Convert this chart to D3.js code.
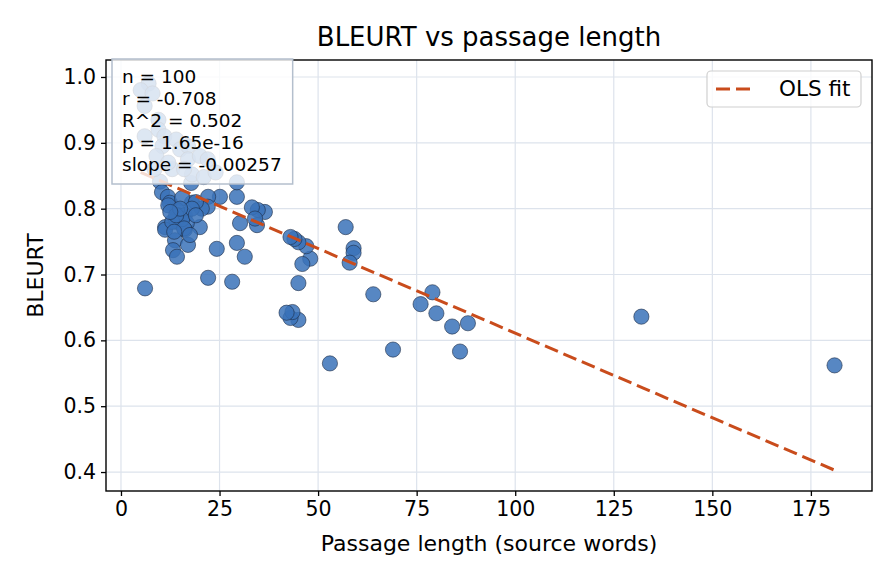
<!DOCTYPE html>
<html lang="en">
<head>
<meta charset="UTF-8">
<title>BLEURT vs passage length</title>
<script src="https://d3js.org/d3.v7.min.js"></script>
<style>
  body { margin: 0; background: #fff; }
  svg { display: block; font-family: "DejaVu Sans", sans-serif; }
</style>
</head>
<body>
<svg id="chart" width="896" height="584"></svg>
<script>
// passage length (source words) per item
const words = [
  181, 132, 88, 86, 84, 80, 79, 76, 69, 64,
  59, 59, 58, 57, 53, 48, 47, 46, 45, 44,
  43, 45, 45, 43, 43.5, 42, 36.5, 34.7, 33.2, 34.5,
  34, 30.2, 31.4, 29.4, 28.2, 24.3, 22.1, 6.1, 29.4, 29.4,
  25.1, 22.1, 22, 20, 17.8, 18, 9.9, 10.4, 11.9, 12.4,
  15.5, 14.2, 14.5, 16.2, 14.2, 16.7, 11.2, 11.2, 16.2, 13.7,
  17, 13.2, 14.2, 12, 14, 15.5, 13, 16, 14, 20.5,
  19, 18, 13, 18, 21, 24, 7, 5, 8, 6,
  9.5, 9.5, 11, 6, 10.5, 14, 15, 17, 9, 12,
  17, 20, 22, 8.5, 16, 15, 12.5, 17.5, 19, 13.5
];
// BLEURT score per item
const bleurt = [
  0.562, 0.636, 0.626, 0.583, 0.621, 0.641, 0.673, 0.655, 0.586, 0.670,
  0.740, 0.733, 0.718, 0.772, 0.565, 0.724, 0.743, 0.716, 0.749, 0.754,
  0.757, 0.687, 0.631, 0.634, 0.643, 0.642, 0.795, 0.798, 0.802, 0.775,
  0.785, 0.778, 0.727, 0.748, 0.689, 0.739, 0.695, 0.679, 0.818, 0.840,
  0.818, 0.818, 0.803, 0.772, 0.839, 0.809, 0.841, 0.825, 0.818, 0.809,
  0.816, 0.798, 0.790, 0.790, 0.780, 0.778, 0.772, 0.768, 0.768, 0.752,
  0.745, 0.737, 0.727, 0.805, 0.783, 0.784, 0.780, 0.770, 0.790, 0.800,
  0.810, 0.800, 0.860, 0.852, 0.848, 0.855, 0.990, 0.980, 0.975, 0.956,
  0.935, 0.920, 0.910, 0.910, 0.895, 0.905, 0.890, 0.895, 0.880, 0.870,
  0.875, 0.880, 0.875, 0.860, 0.860, 0.800, 0.795, 0.760, 0.790, 0.765
];
// fitted OLS line
const fitSlope = -0.00257;
const fitIntercept = 0.868;
// stats box lines
const statsLines = ["n = 100", "r = -0.708", "R^2 = 0.502", "p = 1.65e-16", "slope = -0.00257"];
const xTicks = [0, 25, 50, 75, 100, 125, 150, 175];
const yTicks = [0.4, 0.5, 0.6, 0.7, 0.8, 0.9, 1.0];

const svg = d3.select("#chart");
const m = { left: 106, right: 872, top: 60, bottom: 491 };

const x = d3.scaleLinear().domain([-3.8, 190.5]).range([m.left, m.right]);
const y = d3.scaleLinear().domain([0.3712, 1.0258]).range([m.bottom, m.top]);

// grid
const grid = svg.append("g");
grid.selectAll(".gx").data(xTicks).join("line")
  .attr("x1", d => x(d)).attr("x2", d => x(d))
  .attr("y1", m.top).attr("y2", m.bottom)
  .attr("stroke", "#dde3ec").attr("stroke-width", 1.2);
grid.selectAll(".gy").data(yTicks).join("line")
  .attr("y1", d => y(d)).attr("y2", d => y(d))
  .attr("x1", m.left).attr("x2", m.right)
  .attr("stroke", "#dde3ec").attr("stroke-width", 1.2);

// points
const pts = words.map((w, i) => ({ w: w, b: bleurt[i] }));
svg.append("g").selectAll("circle").data(pts).join("circle")
  .attr("cx", d => x(d.w)).attr("cy", d => y(d.b)).attr("r", 7.6)
  .attr("fill", "#3a72b8").attr("fill-opacity", 0.85)
  .attr("stroke", "#1c2c44").attr("stroke-width", 0.6);

// fit line
const ext = d3.extent(words);
svg.append("line")
  .attr("x1", x(ext[0])).attr("y1", y(fitIntercept + fitSlope * ext[0]))
  .attr("x2", x(ext[1])).attr("y2", y(fitIntercept + fitSlope * ext[1]))
  .attr("stroke", "#c94c1c").attr("stroke-width", 3)
  .attr("stroke-dasharray", "14,6");

// axes
const xAxis = svg.append("g").attr("transform", `translate(0,${m.bottom})`)
  .call(d3.axisBottom(x).tickValues(xTicks).tickSize(5).tickPadding(5).tickFormat(d3.format("d")));
const yAxis = svg.append("g").attr("transform", `translate(${m.left},0)`)
  .call(d3.axisLeft(y).tickValues(yTicks).tickSize(5).tickPadding(5).tickFormat(d3.format(".1f")));
[xAxis, yAxis].forEach(a => {
  a.select(".domain").remove();
  a.selectAll("line").attr("stroke", "#000").attr("stroke-width", 1.3);
  a.selectAll("text").attr("font-size", 20.5).attr("fill", "#000").attr("font-family", "DejaVu Sans");
});
svg.append("rect")
  .attr("x", m.left).attr("y", m.top)
  .attr("width", m.right - m.left).attr("height", m.bottom - m.top)
  .attr("fill", "none").attr("stroke", "#000").attr("stroke-width", 1.4);

// stats box
const sb = svg.append("g");
const sbRect = sb.append("rect").attr("x", 112).attr("y", 59)
  .attr("fill", "#fff").attr("fill-opacity", 0.8)
  .attr("stroke", "#b4bfcd").attr("stroke-width", 1.5);
sb.selectAll("text").data(statsLines).join("text")
  .attr("x", 122).attr("y", (d, i) => 83 + i * 22)
  .attr("font-size", 18.5).text(d => d);
const bb = sb.node().getBBox();
sbRect.attr("width", bb.x + bb.width - 112 + 11).attr("height", 184 - 59);

// legend
const lg = svg.append("g");
lg.append("rect").attr("x", 707).attr("y", 71).attr("width", 154).attr("height", 36)
  .attr("rx", 4).attr("fill", "#fff").attr("fill-opacity", 0.8)
  .attr("stroke", "#d0d0d0").attr("stroke-width", 1.2);
lg.append("line").attr("x1", 716).attr("x2", 754).attr("y1", 89).attr("y2", 89)
  .attr("stroke", "#c94c1c").attr("stroke-width", 3).attr("stroke-dasharray", "14,6");
lg.append("text").attr("x", 779).attr("y", 96).attr("font-size", 21.5).text("OLS fit");

// titles
svg.append("text").attr("x", (m.left + m.right) / 2).attr("y", 46)
  .attr("text-anchor", "middle").attr("font-size", 26).text("BLEURT vs passage length");
svg.append("text").attr("x", (m.left + m.right) / 2).attr("y", 551)
  .attr("text-anchor", "middle").attr("font-size", 22).text("Passage length (source words)");
svg.append("text").attr("transform", `translate(43,${(m.top + m.bottom) / 2}) rotate(-90)`)
  .attr("text-anchor", "middle").attr("font-size", 22).text("BLEURT");
</script>
</body>
</html>
